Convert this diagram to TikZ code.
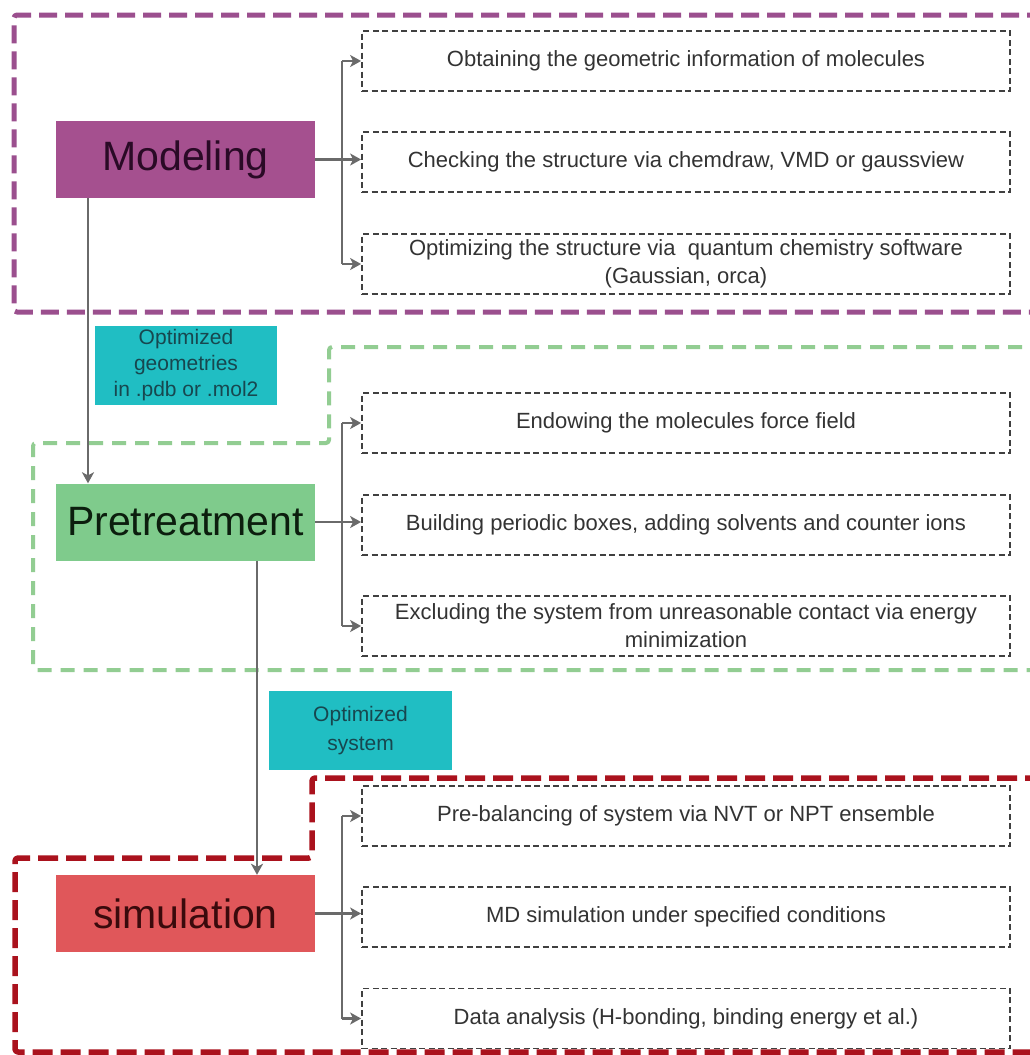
\documentclass[tikz,border=0pt]{standalone}
\usepackage{fontspec}
\setmainfont{Liberation Sans}
\usetikzlibrary{arrows.meta}
\definecolor{modfill}{HTML}{A5508F}
\definecolor{modtext}{HTML}{2A0A26}
\definecolor{prefill}{HTML}{7FCB8C}
\definecolor{pretext}{HTML}{0C1E0E}
\definecolor{simfill}{HTML}{E0575A}
\definecolor{simtext}{HTML}{3A0A0C}
\definecolor{tealfill}{HTML}{20BEC3}
\definecolor{tealtext}{HTML}{17474F}
\definecolor{modborder}{HTML}{9B4F8E}
\definecolor{preborder}{HTML}{92CD92}
\definecolor{simborder}{HTML}{AA121D}
\definecolor{subgray}{HTML}{404040}
\definecolor{subtext}{HTML}{333333}
\definecolor{conngray}{HTML}{6A6A6A}
\begin{document}
\begin{tikzpicture}[x=1pt,y=-1pt,
  mainbox/.style={rectangle, minimum width=259pt, minimum height=77pt, inner sep=0pt, font=\fontsize{41}{48}\selectfont},
  tealbox/.style={rectangle, fill=tealfill, text=tealtext, minimum width=182pt, minimum height=79pt, inner sep=0pt, align=center, font=\fontsize{21}{26}\selectfont},
  subbox/.style={rectangle, draw=subgray, dash pattern=on 6pt off 3.5pt, line width=1.8pt, minimum width=648pt, minimum height=60pt, inner sep=0pt, align=center, text=subtext, font=\fontsize{22}{28}\selectfont},
  conn/.style={draw=conngray, line width=2.2pt},
  arr/.style={conn, -{Stealth[length=11pt,width=12pt,inset=3pt]}},
  groupline/.style={line width=#1, line join=round, rounded corners=3pt}
]
\useasboundingbox (0,0) rectangle (1030,1055);
\fill[white] (0,0) rectangle (1030,1055);
\clip (0,0) rectangle (1030,1055);

% group borders
\draw[groupline=5pt, draw=modborder, dash pattern=on 18pt off 8pt]
  (1045,15) -- (14,15) -- (14,312) -- (1045,312);
\draw[groupline=4pt, draw=preborder, dash pattern=on 14pt off 9pt]
  (1045,347) -- (329,347) -- (329,443) -- (33,443) -- (33,670) -- (1045,670);
\draw[groupline=5.5pt, draw=simborder, dash pattern=on 20pt off 8pt]
  (1045,778) -- (312,778) -- (312,858) -- (15,858) -- (15,1052) -- (1045,1052);

% main boxes
\node[mainbox, fill=modfill, text=modtext] (mod) at (185.5,159.5) {Modeling};
\node[mainbox, fill=prefill, text=pretext] (pre) at (185.5,522) {Pretreatment};
\node[mainbox, fill=simfill, text=simtext] (sim) at (185.5,913.5) {simulation};

% teal labels
\node[tealbox] (t1) at (186,365.5) {Optimized\\geometries\\in .pdb or .mol2};
\node[tealbox, minimum width=183pt, font=\fontsize{21}{29}\selectfont] (t2) at (360.5,730.5) {Optimized\\system};

% sub boxes
\node[subbox] (m1) at (686,61) {Obtaining the geometric information of molecules};
\node[subbox] (m2) at (686,162) {Checking the structure via chemdraw, VMD or gaussview};
\node[subbox] (m3) at (686,264) {Optimizing the structure via\ \ quantum chemistry software\\(Gaussian, orca)};
\node[subbox] (p1) at (686,423) {Endowing the molecules force field};
\node[subbox] (p2) at (686,525) {Building periodic boxes, adding solvents and counter ions};
\node[subbox] (p3) at (686,626) {Excluding the system from unreasonable contact via energy\\minimization};
\node[subbox] (s1) at (686,816) {Pre-balancing of system via NVT or NPT ensemble};
\node[subbox] (s2) at (686,917) {MD simulation under specified conditions};
\node[subbox] (s3) at (686,1018.5) {Data analysis (H-bonding, binding energy et al.)};

% trunk coordinates
\coordinate (mj) at (342,0);
\coordinate (pj) at (342,0);
\coordinate (sj) at (342,0);

% modeling branches
\draw[conn] (m1.west -| mj) -- (m3.west -| mj);
\draw[arr] (m1.west -| mj) -- (m1.west);
\draw[arr] (mod.east) -- (mod.east -| m2.west);
\draw[arr] (m3.west -| mj) -- (m3.west);

% pretreatment branches
\draw[conn] (p1.west -| pj) -- (p3.west -| pj);
\draw[arr] (p1.west -| pj) -- (p1.west);
\draw[arr] (pre.east) -- (pre.east -| p2.west);
\draw[arr] (p3.west -| pj) -- (p3.west);

% simulation branches
\draw[conn] (s1.west -| sj) -- (s3.west -| sj);
\draw[arr] (s1.west -| sj) -- (s1.west);
\draw[arr] (sim.east) -- (sim.east -| s2.west);
\draw[arr] (s3.west -| sj) -- (s3.west);

% vertical flow
\draw[arr] ([xshift=-97.5pt]mod.south) -- ([xshift=-97.5pt]pre.north);
\draw[arr] ([xshift=71.5pt]pre.south) -- ([xshift=71.5pt]sim.north);
\end{tikzpicture}
\end{document}
